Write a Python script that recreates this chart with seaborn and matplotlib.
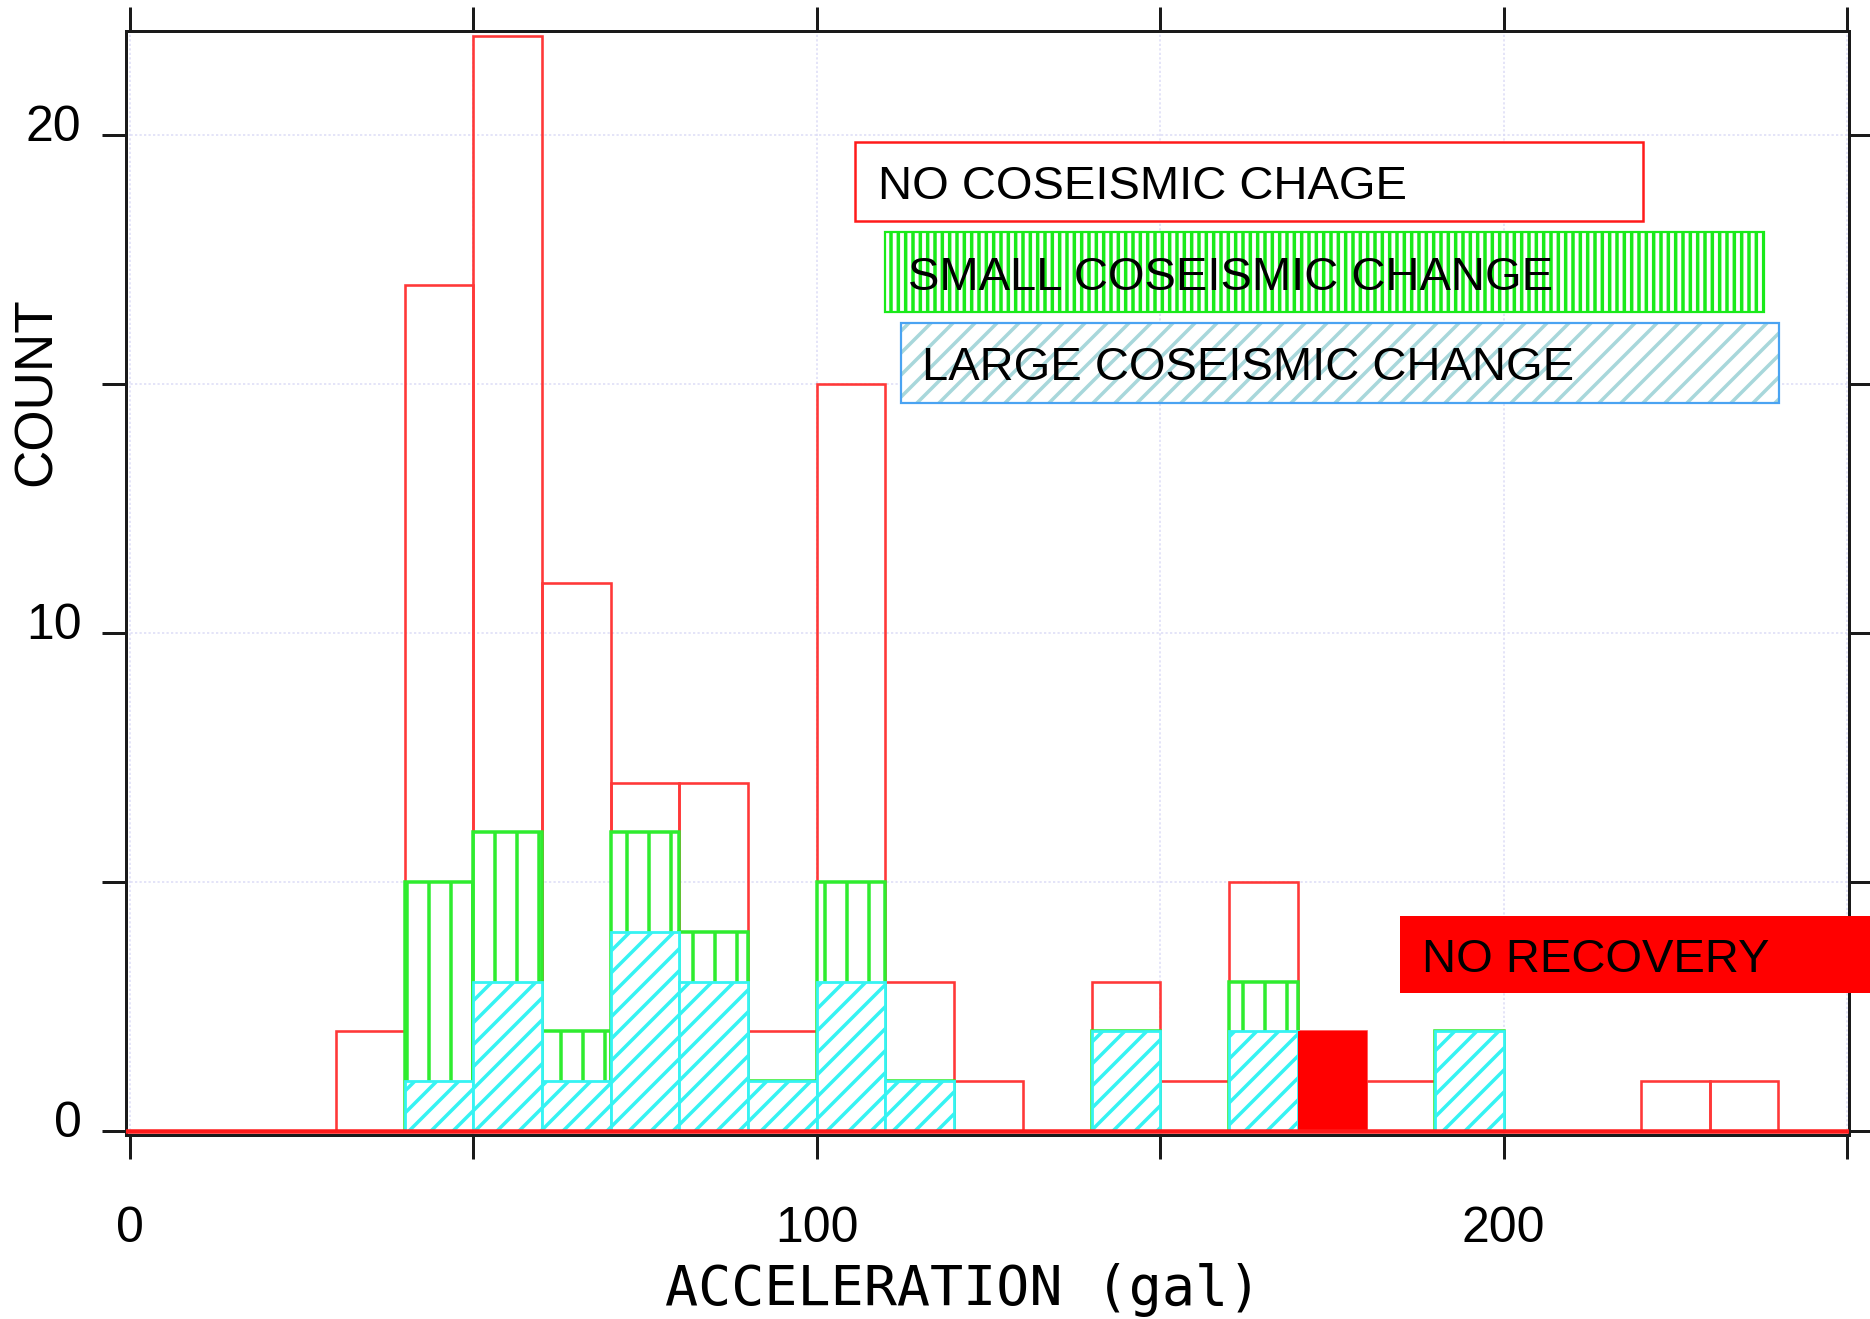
import numpy as np
import pandas as pd
import matplotlib
matplotlib.use("Agg")
import matplotlib.pyplot as plt
from matplotlib.patches import Rectangle
from matplotlib.transforms import ScaledTranslation
import seaborn as sns

# ---- data: counts per 10-gal acceleration bin ----
bin_edges = list(range(0, 260, 10))
no_change    = [0, 0, 0, 2, 12, 16, 9, 1, 3, 1, 10, 2, 1, 0, 1, 1, 2, 0, 1, 0, 0, 0, 1, 1, 0]
small_change = [0, 0, 0, 0, 4, 3, 1, 2, 1, 0, 2, 0, 0, 0, 0, 0, 1, 0, 0, 0, 0, 0, 0, 0, 0]
large_change = [0, 0, 0, 0, 1, 3, 1, 4, 3, 1, 3, 1, 0, 0, 2, 0, 2, 0, 0, 2, 0, 0, 0, 0, 0]
no_recovery  = [0, 0, 0, 0, 0, 0, 0, 0, 0, 0, 0, 0, 0, 0, 0, 0, 0, 2, 0, 0, 0, 0, 0, 0, 0]

x_tick_values = [0, 50, 100, 150, 200, 250]
x_tick_labels = ["0", "", "100", "", "200", ""]
y_tick_values = [0, 5, 10, 15, 20]
y_tick_labels = ["0", "", "10", "", "20"]

legend_labels = ["NO COSEISMIC CHAGE", "SMALL COSEISMIC CHANGE",
                 "LARGE COSEISMIC CHANGE", "NO RECOVERY"]
x_label = "ACCELERATION (gal)"
y_label = "COUNT"

# ---- long-form table ----
centers = [(a + b) / 2 for a, b in zip(bin_edges[:-1], bin_edges[1:])]
frames = []
for name, vals in [("none", no_change), ("small", small_change),
                   ("large", large_change), ("norec", no_recovery)]:
    frames.append(pd.DataFrame({"acc": centers, "count": vals, "kind": name}))
df = pd.concat(frames, ignore_index=True)

# ---- figure setup ----
DPI = 132
W, H = 1870, 1319


def pt(px):
    return px * 72.0 / DPI


sns.set_theme(style="ticks")
plt.rcParams["font.family"] = ["Liberation Sans", "DejaVu Sans"]
plt.rcParams["hatch.linewidth"] = pt(3.5)

fig = plt.figure(figsize=(W / DPI, H / DPI), dpi=DPI)
fig.patch.set_facecolor("white")
ax = fig.add_axes([126.5 / W, 1 - 1135 / H, (1849 - 126.5) / W, (1135 - 30.7) / H])
ax.set_facecolor("white")

RED = "#ff3838"
GREEN = "#2fec2f"
CYAN = "#36f3f3"


def layer(data, color, lw, face=None, hatch=None, keep_zero=False):
    n0 = len(ax.patches)
    if face is None:
        sns.histplot(data=data, x="acc", weights="count", bins=bin_edges,
                     element="bars", fill=False, color=color, alpha=1,
                     linewidth=pt(lw), ax=ax)
    else:
        sns.histplot(data=data, x="acc", weights="count", bins=bin_edges,
                     element="bars", fill=True, color=color, alpha=1,
                     facecolor=face, edgecolor=color,
                     linewidth=pt(lw), ax=ax)
    for p in ax.patches[n0:]:
        if p.get_height() == 0 and not keep_zero:
            p.set_visible(False)
            continue
        if hatch:
            p.set_hatch(hatch)


# total outline, small+large (vertical hatch), large (diagonal hatch), no recovery
layer(df, RED, 2.6, keep_zero=True)
layer(df[df["kind"].isin(["small", "large"])], GREEN, 3.5, face="white", hatch="|")
layer(df[df["kind"] == "large"], CYAN, 2.8, face="white", hatch="//")
layer(df[df["kind"] == "norec"], "#ff0000", 1.0, face="#ff0000")

ax.axhline(0, color="#ff1a1a", lw=pt(4.5), zorder=4)

# ---- axes styling ----
ax.set_xlim(-0.51, 250.29)
ax.set_ylim(-0.08, 22.1)
ax.set_xticks(x_tick_values)
ax.set_xticklabels(x_tick_labels)
ax.set_yticks(y_tick_values)
ax.set_yticklabels(y_tick_labels)

ax.grid(True, color="#dcdcf6", linestyle=(0, (1.5, 1.5)), linewidth=pt(1.5))
ax.set_axisbelow(True)

for s in ax.spines.values():
    s.set_visible(True)
    s.set_linewidth(pt(3))
    s.set_color("#1a1a1a")
    s.set_zorder(3)

ax.tick_params(axis="both", which="major", direction="out", length=pt(24),
               width=pt(3), color="#1a1a1a", top=True, right=True,
               labelsize=pt(50), labelcolor="black")
ax.tick_params(axis="x", pad=pt(47))
ax.tick_params(axis="y", pad=pt(21))

shift = ScaledTranslation(0, 12 / DPI, fig.dpi_scale_trans)
for lab in ax.get_yticklabels():
    lab.set_transform(lab.get_transform() + shift)

ax.set_xlabel(x_label, fontfamily=["DejaVu Sans Mono"], fontsize=pt(55),
              ha="left", va="baseline", color="black")
ax.xaxis.set_label_coords((665 - 126.5) / 1722.5, (1135 - 1305) / 1104.3)
ax.set_ylabel(y_label, fontsize=pt(53), ha="center", va="center", color="black")
ax.yaxis.set_label_coords((37 - 126.5) / 1722.5, (1135 - 392) / 1104.3)


# ---- legend boxes drawn in figure pixel space ----
def box(x0, y0, x1, y1, **kw):
    r = Rectangle((x0 / W, 1 - y1 / H), (x1 - x0) / W, (y1 - y0) / H,
                  transform=fig.transFigure, **kw)
    fig.add_artist(r)
    return r


def label(x, y_base, s, size_px=47.2):
    fig.text(x / W, 1 - y_base / H, s, ha="left", va="baseline",
             fontsize=pt(size_px), color="black", zorder=10)


box(855, 142, 1643, 221, facecolor="white", edgecolor="#ff1a1a",
    linewidth=pt(2.5), zorder=5)
label(877.6, 199, legend_labels[0])

box(885, 232, 1764, 312, facecolor="white", edgecolor="#1aea1a",
    linewidth=pt(2.2), hatch="|||", zorder=5)
label(908, 289.5, legend_labels[1])

box(900.6, 322.7, 1779, 402.7, facecolor="white", edgecolor="#a8d7db",
    linewidth=0, hatch="//", zorder=5)
box(900.6, 322.7, 1779, 402.7, facecolor="none", edgecolor="#4aa3f2",
    linewidth=pt(2.2), zorder=6)
label(922, 380, legend_labels[2])

box(1400, 916, 1875, 993, facecolor="#ff0000", edgecolor="none", zorder=5)
label(1421.7, 971.5, legend_labels[3])

fig.savefig("out.png", dpi=DPI, facecolor="white")
